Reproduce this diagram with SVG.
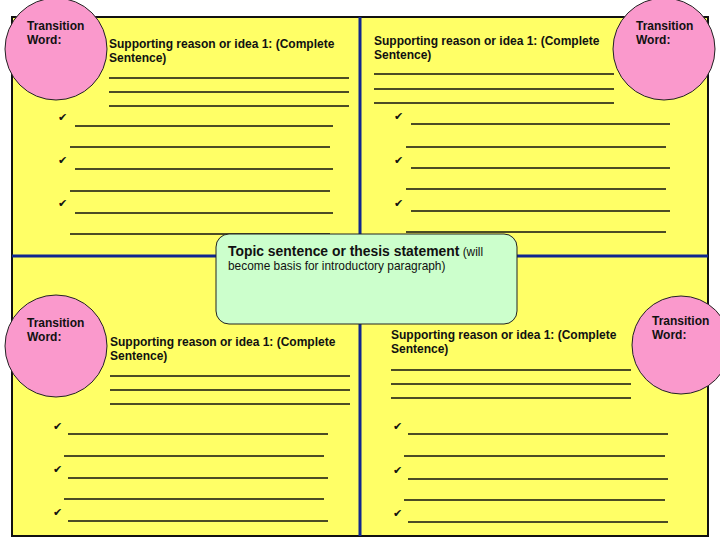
<svg xmlns="http://www.w3.org/2000/svg" width="720" height="540" viewBox="0 0 720 540">
<style>
.bg{fill:#ffff66;stroke:#111;stroke-width:2}
.div{stroke:#10268f;stroke-width:3}
.ln{stroke:#111;stroke-width:1.3}
.circ{fill:#fa99cc;stroke:#222;stroke-width:1}
.tw{font-family:"Liberation Sans",Arial,sans-serif;font-size:12px;font-weight:bold;fill:#111}
.sr{font-family:"Liberation Sans",Arial,sans-serif;font-size:12px;font-weight:bold;fill:#111}
.ck{font-family:"DejaVu Sans",sans-serif;font-size:11px;fill:#111}
.box{fill:#ccffcc;stroke:#222;stroke-width:1}
.tb{font-family:"Liberation Sans",Arial,sans-serif;font-size:13.9px;font-weight:bold;fill:#111}
.tn{font-family:"Liberation Sans",Arial,sans-serif;font-size:11.9px;fill:#111}
</style>
<rect class="bg" x="12" y="17" width="696" height="519"/>
<g id="connectors">
<line class="div" x1="12" y1="256" x2="708" y2="256"/>
<line class="div" x1="360" y1="17" x2="360" y2="536"/>
</g>
<g id="quad-tl">
<text class="sr" x="109" y="48">Supporting reason or idea 1: (Complete</text>
<text class="sr" x="109" y="62">Sentence)</text>
<g class="ln">
<line x1="109" y1="78" x2="349" y2="78"/><line x1="109" y1="92" x2="349" y2="92"/><line x1="109" y1="106" x2="349" y2="106"/>
<line x1="75" y1="126" x2="333" y2="126"/><line x1="70" y1="147" x2="330" y2="147"/>
<line x1="75" y1="169" x2="333" y2="169"/><line x1="70" y1="191" x2="330" y2="191"/>
<line x1="75" y1="213" x2="333" y2="213"/><line x1="70" y1="234" x2="330" y2="234"/>
</g>
<text class="ck" x="58" y="121">✔</text><text class="ck" x="58" y="164">✔</text><text class="ck" x="58" y="207">✔</text>
</g>
<g id="quad-tr">
<text class="sr" x="374" y="45">Supporting reason or idea 1: (Complete</text>
<text class="sr" x="374" y="59">Sentence)</text>
<g class="ln">
<line x1="374" y1="74" x2="614" y2="74"/><line x1="374" y1="89" x2="614" y2="89"/><line x1="374" y1="103" x2="614" y2="103"/>
<line x1="411" y1="124" x2="670" y2="124"/><line x1="406" y1="147" x2="666" y2="147"/>
<line x1="411" y1="168" x2="670" y2="168"/><line x1="406" y1="189" x2="666" y2="189"/>
<line x1="411" y1="211" x2="670" y2="211"/><line x1="406" y1="232" x2="666" y2="232"/>
</g>
<text class="ck" x="394" y="120">✔</text><text class="ck" x="394" y="164">✔</text><text class="ck" x="394" y="207">✔</text>
</g>
<g id="quad-bl">
<text class="sr" x="110" y="346">Supporting reason or idea 1: (Complete</text>
<text class="sr" x="110" y="360">Sentence)</text>
<g class="ln">
<line x1="110" y1="376" x2="350" y2="376"/><line x1="110" y1="390" x2="350" y2="390"/><line x1="110" y1="404" x2="350" y2="404"/>
<line x1="68" y1="434" x2="328" y2="434"/><line x1="64" y1="456" x2="324" y2="456"/>
<line x1="68" y1="478" x2="328" y2="478"/><line x1="64" y1="499" x2="324" y2="499"/>
<line x1="68" y1="521" x2="328" y2="521"/>
</g>
<text class="ck" x="53" y="430">✔</text><text class="ck" x="53" y="473">✔</text><text class="ck" x="53" y="516">✔</text>
</g>
<g id="quad-br">
<text class="sr" x="391" y="339">Supporting reason or idea 1: (Complete</text>
<text class="sr" x="391" y="353">Sentence)</text>
<g class="ln">
<line x1="391" y1="370" x2="631" y2="370"/><line x1="391" y1="384" x2="631" y2="384"/><line x1="391" y1="398" x2="631" y2="398"/>
<line x1="408" y1="434" x2="668" y2="434"/><line x1="404" y1="456" x2="665" y2="456"/>
<line x1="408" y1="479" x2="668" y2="479"/><line x1="404" y1="500" x2="665" y2="500"/>
<line x1="408" y1="522" x2="668" y2="522"/>
</g>
<text class="ck" x="393" y="430">✔</text><text class="ck" x="393" y="474">✔</text><text class="ck" x="393" y="517">✔</text>
</g>
<g id="topic">
<rect class="box" x="216" y="234" width="301" height="90" rx="13"/>
<text x="228" y="256"><tspan class="tb">Topic sentence or thesis statement</tspan><tspan class="tn"> (will</tspan></text>
<text class="tn" x="228" y="270">become basis for introductory paragraph)</text>
</g>
<g id="circle-tl">
<circle class="circ" cx="56" cy="49" r="51"/>
<text class="tw" x="27" y="30">Transition</text><text class="tw" x="27" y="44">Word:</text>
</g>
<g id="circle-tr">
<circle class="circ" cx="664" cy="49" r="51"/>
<text class="tw" x="636" y="30">Transition</text><text class="tw" x="636" y="44">Word:</text>
</g>
<g id="circle-bl">
<circle class="circ" cx="56" cy="346" r="51"/>
<text class="tw" x="27" y="327">Transition</text><text class="tw" x="27" y="341">Word:</text>
</g>
<g id="circle-br">
<circle class="circ" cx="681" cy="345" r="49"/>
<text class="tw" x="652" y="325">Transition</text><text class="tw" x="652" y="339">Word:</text>
</g>
</svg>
